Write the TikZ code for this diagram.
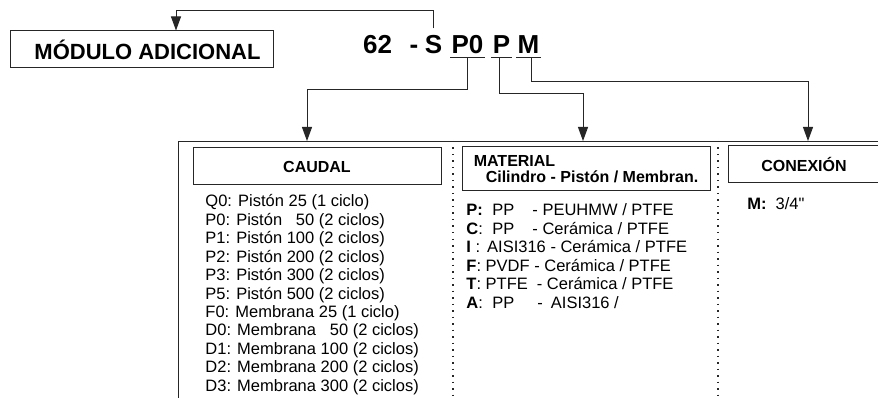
\documentclass[tikz,border=0pt]{standalone}
\usepackage{fontspec}
\setmainfont{Liberation Sans}
\usetikzlibrary{arrows.meta,positioning,calc}
\newcommand{\inchmark}{\XeTeXglyph\XeTeXglyphindex "quotedbl"\relax}

\begin{document}
\begin{tikzpicture}[
    x=1pt, y=-1pt,
    line width=0.9pt, draw=black!85,
    arrow/.style={-{Triangle[length=14pt,width=10pt]}, line width=0.9pt},
    headbox/.style={draw, line width=1pt, minimum height=37pt, minimum width=248pt, font=\bfseries\fontsize{16}{16}\selectfont},
    code/.style={anchor=base, inner xsep=1pt, inner ysep=3pt, text depth=0pt, font=\bfseries\fontsize{26}{26}\selectfont},
    item/.style={anchor=base west, inner sep=0pt, font=\fontsize{16.5}{18.4}\selectfont},
    sep/.style={line width=1.2pt, dash pattern=on 1.5pt off 5pt}
]
\useasboundingbox (0,0) rectangle (878,398);

% model code
\node[draw, line width=1pt, minimum width=263pt, minimum height=37pt, font=\bfseries\fontsize{22}{22}\selectfont] (modulo) at (141.5,49.5) {\hspace{12pt}MÓDULO ADICIONAL};

\node[code] (c62) at (377.5,54) {62};
\node[code] (cdash) at (414,54) {-};
\node[code] (cS) at (433.5,54) {S};
\node[code] (cP0) at (467.5,54) {P0};
\node[code] (cP) at (501.5,54) {P};
\node[code] (cM) at (528.5,54) {M};
\foreach \n in {cP0,cP,cM}
  \draw (\n.south west) -- (\n.south east);

% frame
\draw (880,141) -- (178,141) -- (178,398);
\draw[sep] (453,141) -- (453,398);
\draw[sep] (718,141) -- (718,398);
\coordinate (caudalIn) at (307,141);
\coordinate (materialIn) at (583,141);
\coordinate (conexionIn) at (808,141);

% connectors
\draw[arrow] ([yshift=4pt]cS.north) -- ++(0,-18) -| ([xshift=34.5pt]modulo.north);
\draw[arrow] (cP0.south) -- ++(0,32) -| (caudalIn);
\draw[arrow] ([xshift=-2pt]cP.south) -- ++(0,36) -| (materialIn);
\draw[arrow] ([xshift=3pt]cM.south) -- ++(0,24) -| (conexionIn);

% headers
\node[headbox] (caudal) at (317,166.5) {CAUDAL};
\node[headbox, minimum height=44pt, align=left] (material) at (586,169) {MATERIAL\\\hspace{12pt}Cilindro - Pistón / Membran.};
\node[headbox, minimum width=152pt] (conexion) at (804,164.5) {CONEXIÓN};

% options
\foreach \txt [count=\i from 0] in {
    Q0: Pistón 25 (1 ciclo),
    P0: Pistón \phantom{1}50 (2 ciclos),
    P1: Pistón 100 (2 ciclos),
    P2: Pistón 200 (2 ciclos),
    P3: Pistón 300 (2 ciclos),
    P5: Pistón 500 (2 ciclos),
    F0: Membrana 25 (1 ciclo),
    D0: Membrana \phantom{1}50 (2 ciclos),
    D1: Membrana 100 (2 ciclos),
    D2: Membrana 200 (2 ciclos),
    D3: Membrana 300 (2 ciclos)}
  \node[item] (caudal-\i) at (205,207+18.4*\i) {\txt};

\foreach \txt [count=\i from 0] in {
    {\makebox[26pt][l]{\textbf{P:}}\makebox[40pt][l]{PP}- PEUHMW / PTFE},
    {\makebox[26pt][l]{\textbf{C}:}\makebox[40pt][l]{PP}- Cerámica / PTFE},
    {\textbf{I} :\hspace{7pt}AISI316 - Cerámica / PTFE},
    {\textbf{F}: PVDF - Cerámica / PTFE},
    {\textbf{T}: PTFE\hspace{9pt}- Cerámica / PTFE},
    {\makebox[26pt][l]{\textbf{A}:}\makebox[45pt][l]{PP}-\hspace{8pt}AISI316 /}}
  \node[item] (material-\i) at (466,216+18.4*\i) {\txt};

\node[item] (conexion-0) at (747,210) {\textbf{M:}\hspace{9pt}3/4\inchmark};

\end{tikzpicture}
\end{document}
